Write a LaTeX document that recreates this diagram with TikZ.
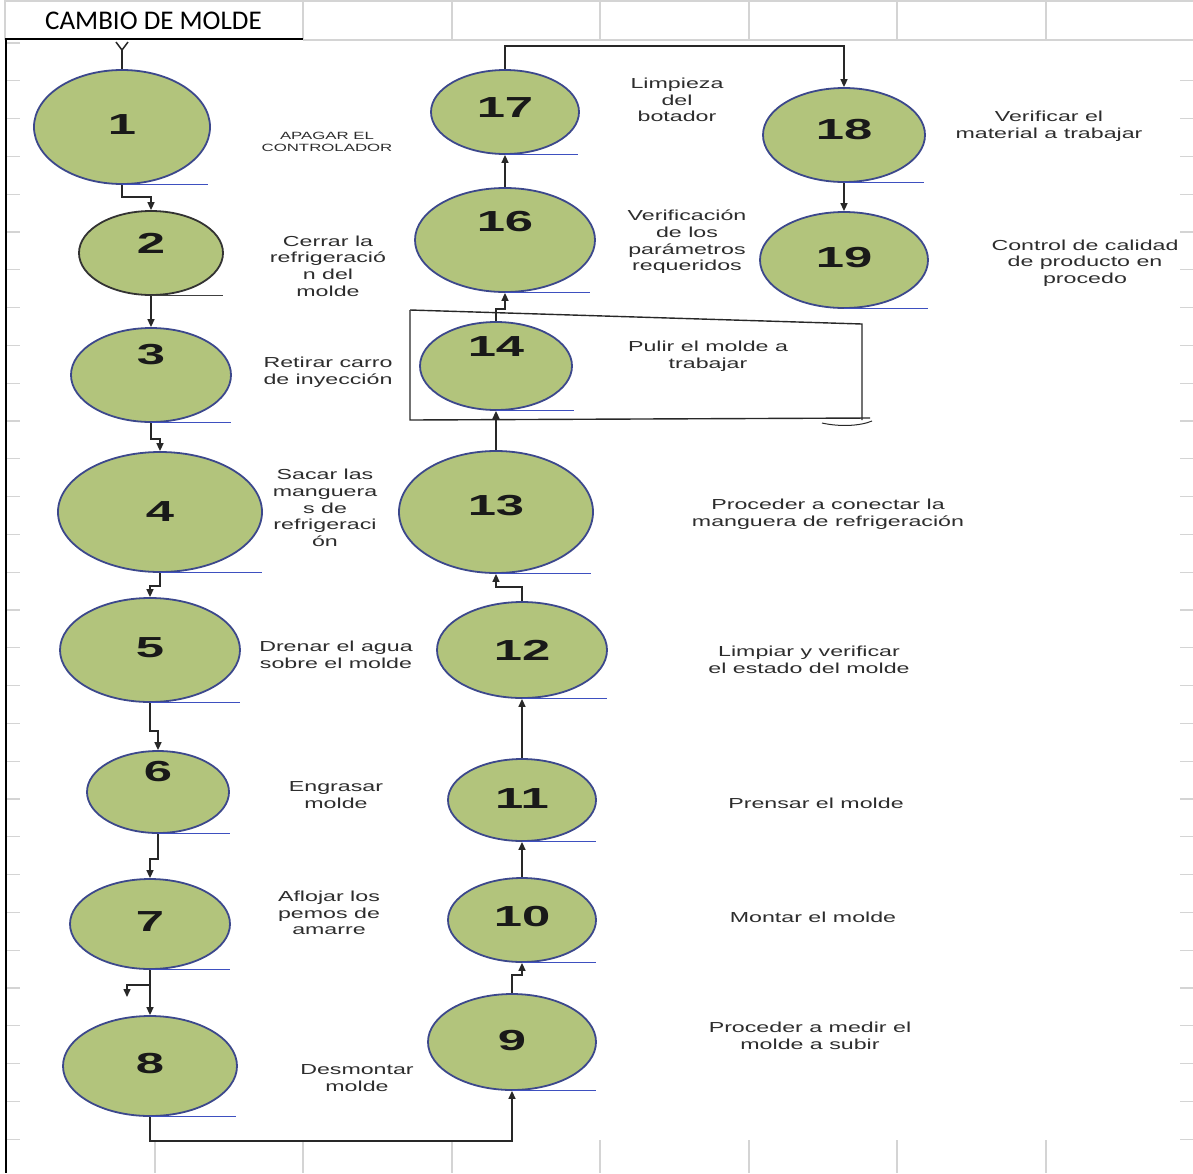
\documentclass[tikz,border=0pt]{standalone}
\usepackage{fontspec}
\usetikzlibrary{shapes.geometric,arrows.meta}
\newfontfamily\labfont[FakeStretch=1.6]{Liberation Sans}
\newfontfamily\numfont[FakeStretch=1.75]{Liberation Sans}
\newfontfamily\titlefont{Carlito}
\definecolor{ellfill}{RGB}{178,196,124}
\definecolor{elldraw}{RGB}{60,72,140}
\definecolor{ulblue}{RGB}{62,80,192}
\definecolor{labgray}{RGB}{45,45,45}
\definecolor{gridgray}{RGB}{212,212,212}
\definecolor{conngray}{RGB}{40,40,40}
\tikzset{
  stepnode/.style={ellipse,draw=elldraw,fill=ellfill,line width=1.8pt,inner sep=0pt},
  num/.style={font=\numfont\bfseries\fontsize{29}{31}\selectfont,text=black!90,inner sep=0pt},
  lab/.style={font=\labfont\fontsize{14.5}{16.7}\selectfont,text=labgray,align=center,inner sep=0pt},
  smalllab/.style={font=\labfont\fontsize{10.5}{11.5}\selectfont,text=labgray,align=center,inner sep=0pt},
  conn/.style={draw=conngray,line width=1.5pt,-{Triangle[length=8pt,width=7pt]}},
  plainconn/.style={draw=conngray,line width=1.5pt},
  uline/.style={draw=ulblue,line width=1pt},
  grid/.style={draw=gridgray,line width=1.2pt},
}
\begin{document}
\begin{tikzpicture}[x=1pt,y=-1pt]
\useasboundingbox (0,0) rectangle (1193,1173);
\fill[white] (0,0) rectangle (1193,1173);
% spreadsheet grid, top row
\draw[grid] (5,1) -- (1193,1);
\draw[grid] (5,0) -- (5,40);
\foreach \gx in {303,452,600,749,897,1046} \draw[grid] (\gx,0) -- (\gx,40);
\draw[grid] (303,40) -- (1193,40);
% bottom row
\foreach \gx in {155,303,452,600,749,897,1046} \draw[grid] (\gx,1140) -- (\gx,1173);
% side ticks
\foreach \k in {0,...,29} \draw[grid] (6,43+37.8*\k) -- (20,43+37.8*\k);
\foreach \k in {1,...,29} \draw[grid] (1180,43+37.8*\k) -- (1193,43+37.8*\k);
% title
\node[font=\titlefont\fontsize{27}{30}\selectfont,anchor=west,inner sep=0pt] (title) at (45,21) {CAMBIO DE MOLDE};
\draw[black,line width=2.2pt] (5,39) -- (303,39);
\draw[black,line width=2.2pt] (6,38) -- (6,1173);

% frame around step 14
\draw[conngray,line width=1.4pt] (410,310) -- (862,324) -- (862,420);
\draw[conngray,line width=1.4pt] (410,310) -- (410,420) -- (870,418);
\draw[conngray,line width=1pt] (822,423) .. controls (840,427) and (860,426) .. (872,421);

% steps
\node[stepnode,minimum width=176pt,minimum height=114pt,label={[num,yshift=2pt]center:1}] (n1) at (122,127) {};
\node[stepnode,draw=black!80,minimum width=144pt,minimum height=84pt,label={[num,yshift=10pt]center:2}] (n2) at (151,253) {};
\node[stepnode,minimum width=160pt,minimum height=94pt,label={[num,yshift=20pt]center:3}] (n3) at (151,375) {};
\node[stepnode,minimum width=204pt,minimum height=120pt,label={[num]center:4}] (n4) at (160,512) {};
\node[stepnode,minimum width=180pt,minimum height=104pt,label={[num,yshift=2pt]center:5}] (n5) at (150,650) {};
\node[stepnode,minimum width=142pt,minimum height=82pt,label={[num,yshift=20pt]center:6}] (n6) at (158,792) {};
\node[stepnode,minimum width=160pt,minimum height=90pt,label={[num,yshift=2pt]center:7}] (n7) at (150,924) {};
\node[stepnode,minimum width=174pt,minimum height=100pt,label={[num,yshift=3pt]center:8}] (n8) at (150,1066) {};
\node[stepnode,minimum width=168pt,minimum height=96pt,label={[num,yshift=2pt]center:9}] (n9) at (512,1042) {};
\node[stepnode,minimum width=148pt,minimum height=84pt,label={[num,yshift=3pt]center:10}] (n10) at (522,920) {};
\node[stepnode,minimum width=148pt,minimum height=82pt,label={[num,yshift=1pt]center:11}] (n11) at (522,800) {};
\node[stepnode,minimum width=170pt,minimum height=96pt,label={[num]center:12}] (n12) at (522,650) {};
\node[stepnode,minimum width=194pt,minimum height=122pt,label={[num,yshift=6pt]center:13}] (n13) at (496,512) {};
\node[stepnode,minimum width=152pt,minimum height=88pt,label={[num,yshift=19pt]center:14}] (n14) at (496,366) {};
\node[stepnode,minimum width=180pt,minimum height=104pt,label={[num,yshift=18pt]center:16}] (n16) at (505,240) {};
\node[stepnode,minimum width=148pt,minimum height=84pt,label={[num,yshift=4pt]center:17}] (n17) at (505,112) {};
\node[stepnode,minimum width=162pt,minimum height=94pt,label={[num,yshift=5pt]center:18}] (n18) at (844,135) {};
\node[stepnode,minimum width=168pt,minimum height=96pt,label={[num,yshift=2pt]center:19}] (n19) at (844,260) {};

% blue underlines
\draw[uline] (n1.south) -- ++(86,0);
\draw[uline,draw=black!75] (n2.south) -- ++(72,0);
\draw[uline] (n3.south) -- ++(80,0);
\draw[uline] (n4.south) -- ++(102,0);
\draw[uline] (n5.south) -- ++(90,0);
\draw[uline] (n6.south) -- ++(72,0);
\draw[uline] (n7.south) -- ++(80,0);
\draw[uline] (n8.south) -- ++(86,0);
\draw[uline] (n9.south) -- ++(84,0);
\draw[uline] (n10.south) -- ++(74,0);
\draw[uline] (n11.south) -- ++(74,0);
\draw[uline] (n12.south) -- ++(85,0);
\draw[uline] (n13.south) -- ++(95,0);
\draw[uline] (n14.south) -- ++(78,0);
\draw[uline] (n16.south) -- ++(85,0);
\draw[uline] (n17.south) -- ++(73,0);
\draw[uline] (n18.south) -- ++(80,0);
\draw[uline] (n19.south) -- ++(84,0);

% start mark
\coordinate (start) at (122,50);
\draw[plainconn] (116,42) -- (start) -- (128,42);
\draw[plainconn] (start) -- (n1.north);

% connectors, left column going down
\draw[conn] (n1.south) -- ++(0,12) -| (n2.north);
\draw[conn] (n2.south) -- (n3.north);
\draw[conn] (n3.south) -- ++(0,16) -| (n4.north);
\draw[conn] (n4.south) -- ++(0,13) -| (n5.north);
\draw[conn] (n5.south) -- ++(0,28) -| (n6.north);
\draw[conn] (n6.south) -- ++(0,25) -| (n7.north);
\draw[conn] (n7.south) -- (n8.north);
\coordinate (stub) at (127,997);
\draw[conn] (150,985) -| (stub);
\draw[conn] (n8.south) -- ++(0,24) -| (n9.south);
% right column going up
\draw[conn] (n9.north) -- ++(0,-18) -| (n10.south);
\draw[conn] (n10.north) -- (n11.south);
\draw[conn] (n11.north) -- (n12.south);
\draw[conn] (n12.north) -- ++(0,-14) -| (n13.south);
\draw[conn] (n13.north) -- (n14.south);
\draw[conn] (n14.north) -- ++(0,-12) -| (n16.south);
\draw[conn] (n16.north) -- (n17.south);
\draw[conn] (n17.north) -- ++(0,-23) -| (n18.north);
\draw[conn] (n18.south) -- (n19.north);

% labels
\node[smalllab] (t1) at (327,142) {APAGAR EL\\CONTROLADOR};
\node[lab] (t2) at (328,266) {Cerrar la\\refrigeració\\n del\\molde};
\node[lab] (t3) at (328,372) {Retirar carro\\de inyección};
\node[lab] (t4) at (325,508) {Sacar las\\manguera\\s de\\refrigeraci\\ón};
\node[lab] (t5) at (336,655) {Drenar el agua\\sobre el molde};
\node[lab] (t6) at (336,795) {Engrasar\\molde};
\node[lab] (t7) at (329,913) {Aflojar los\\pemos de\\amarre};
\node[lab] (t8) at (357,1078) {Desmontar\\molde};
\node[lab] (t9) at (810,1036) {Proceder a medir el\\molde a subir};
\node[lab] (t10) at (813,917) {Montar el molde};
\node[lab] (t11) at (816,803) {Prensar el molde};
\node[lab] (t12) at (809,660) {Limpiar y verificar\\el estado del molde};
\node[lab] (t13) at (828,514) {Proceder a conectar la\\manguera de refrigeración};
\node[lab] (t14) at (708,356) {Pulir el molde a\\trabajar};
\node[lab] (t16) at (687,242) {Verificación\\de los\\parámetros\\requeridos};
\node[lab] (t17) at (677,100) {Limpieza\\del\\botador};
\node[lab] (t18) at (1049,126) {Verificar el\\material a trabajar};
\node[lab] (t19) at (1085,263) {Control de calidad\\de producto en\\procedo};
\end{tikzpicture}
\end{document}
